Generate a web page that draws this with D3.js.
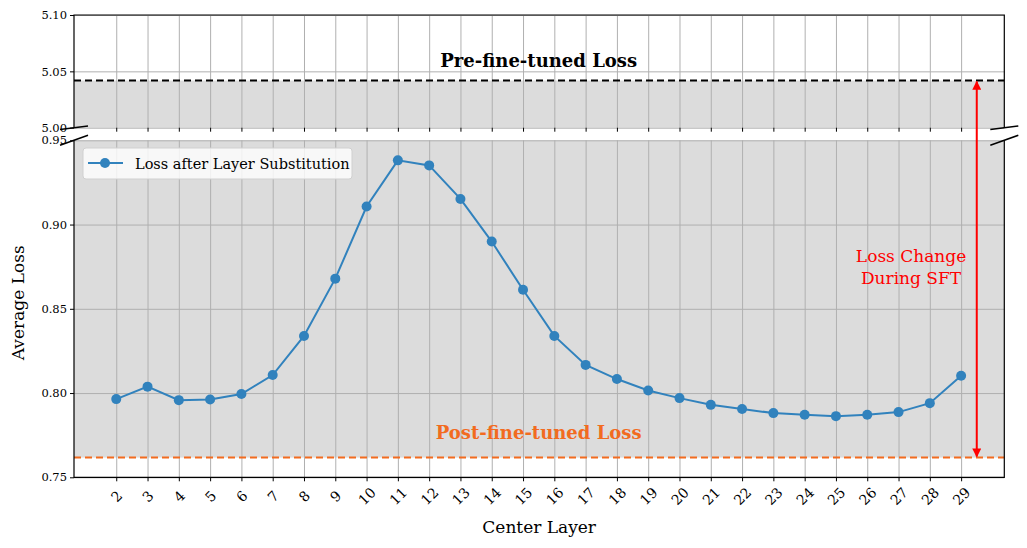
<!DOCTYPE html>
<html lang="en">
  <head>
    <meta charset="UTF-8">
    <title>Loss after Layer Substitution</title>
    <style>
      body { margin: 0; background: #fff; }
      svg { font-family: "DejaVu Serif", Georgia, serif; }
      .grid line { stroke: #b0b0b0; stroke-width: 1; }
      .grid path { display: none; }
      .axis path, .axis line { stroke: #000; stroke-width: 1; }
      .axis text { font-size: 11.5px; fill: #000; font-family: "DejaVu Serif", serif; }
      .axis-x text { font-size: 14px; }
      .spine { fill: none; stroke: #000; stroke-width: 1.2; }
    </style>
    <script src="https://d3js.org/d3.v7.min.js"></script>
  </head>
  <body>
    <script>
      // data
      const layers = [2, 3, 4, 5, 6, 7, 8, 9, 10, 11, 12, 13, 14, 15, 16, 17, 18, 19, 20, 21, 22, 23, 24, 25, 26, 27, 28, 29];
      const losses = [0.7964, 0.8038, 0.7958, 0.7962, 0.7994, 0.8107, 0.8339, 0.8679, 0.9107, 0.9381,
                      0.9351, 0.9152, 0.8899, 0.8613, 0.8339, 0.8167, 0.8083, 0.8015, 0.7970, 0.7930,
                      0.7905, 0.7881, 0.7871, 0.7863, 0.7871, 0.7887, 0.7940, 0.8103];
      const preLoss = 5.0418;
      const postLoss = 0.7617;
      const arrowX = 29.5;
      const topTicks = [5.00, 5.05, 5.10];
      const bottomTicks = [0.75, 0.80, 0.85, 0.90, 0.95];

      const width = 1027, height = 548;
      const left = 74, right = 1004.3;
      const topPanel = { top: 15, bottom: 127.7 };
      const botPanel = { top: 140.3, bottom: 477.3 };
      const lineColor = "#3182bd";
      const orange = "#f26b1f";
      const gray = "#dcdcdc";

      const svg = d3.select("body").append("svg")
        .attr("width", width)
        .attr("height", height);

      const x = d3.scaleLinear().domain([0.65, 30.38]).range([left, right]);
      const yTop = d3.scaleLinear().domain([5.00, 5.10]).range([topPanel.bottom, topPanel.top]);
      const yBot = d3.scaleLinear().domain([0.75, 0.95]).range([botPanel.bottom, botPanel.top]);

      const defs = svg.append("defs");
      defs.append("marker")
        .attr("id", "head")
        .attr("viewBox", "0 0 10 10")
        .attr("refX", 9).attr("refY", 5)
        .attr("markerWidth", 4.5).attr("markerHeight", 4.5)
        .attr("orient", "auto-start-reverse")
        .append("path")
        .attr("d", "M0,0 L10,5 L0,10 z")
        .attr("fill", "red");

      // ---- top panel ----
      svg.append("rect")
        .attr("x", left).attr("width", right - left)
        .attr("y", yTop(preLoss)).attr("height", yTop(5.00) - yTop(preLoss))
        .attr("fill", gray);

      svg.append("g").attr("class", "grid")
        .attr("transform", `translate(0,${topPanel.bottom})`)
        .call(d3.axisBottom(x).tickValues(layers).tickSize(-(topPanel.bottom - topPanel.top)).tickFormat(""));
      svg.append("g").attr("class", "grid")
        .attr("transform", `translate(${left},0)`)
        .call(d3.axisLeft(yTop).tickValues(topTicks).tickSize(-(right - left)).tickFormat(""));

      svg.append("line")
        .attr("x1", left).attr("x2", right)
        .attr("y1", yTop(preLoss)).attr("y2", yTop(preLoss))
        .attr("stroke", "#000").attr("stroke-width", 2)
        .attr("stroke-dasharray", "7,4");

      svg.append("text")
        .attr("x", x(15.5)).attr("y", yTop(5.0535))
        .attr("text-anchor", "middle")
        .attr("font-size", 18).attr("font-weight", "bold")
        .text("Pre-fine-tuned Loss");

      svg.append("g").attr("class", "axis")
        .attr("transform", `translate(${left},0)`)
        .call(d3.axisLeft(yTop).tickValues(topTicks).tickSize(4).tickPadding(3).tickFormat(d3.format(".2f")))
        .call(g => g.select(".domain").remove());
      svg.append("g").attr("class", "axis")
        .attr("transform", `translate(0,${topPanel.bottom})`)
        .call(d3.axisBottom(x).tickValues(layers).tickSize(4).tickFormat(""))
        .call(g => g.select(".domain").remove());

      svg.append("path").attr("class", "spine")
        .attr("d", `M${left},${topPanel.bottom}V${topPanel.top}H${right}V${topPanel.bottom}`);

      // ---- bottom panel ----
      svg.append("rect")
        .attr("x", left).attr("width", right - left)
        .attr("y", botPanel.top).attr("height", yBot(postLoss) - botPanel.top)
        .attr("fill", gray);

      svg.append("g").attr("class", "grid")
        .attr("transform", `translate(0,${botPanel.bottom})`)
        .call(d3.axisBottom(x).tickValues(layers).tickSize(-(botPanel.bottom - botPanel.top)).tickFormat(""));
      svg.append("g").attr("class", "grid")
        .attr("transform", `translate(${left},0)`)
        .call(d3.axisLeft(yBot).tickValues(bottomTicks).tickSize(-(right - left)).tickFormat(""));

      svg.append("line")
        .attr("x1", left).attr("x2", right)
        .attr("y1", yBot(postLoss)).attr("y2", yBot(postLoss))
        .attr("stroke", orange).attr("stroke-width", 2)
        .attr("stroke-dasharray", "7,4");

      svg.append("text")
        .attr("x", x(15.5)).attr("y", yBot(0.7725))
        .attr("text-anchor", "middle")
        .attr("font-size", 18).attr("font-weight", "bold")
        .attr("fill", orange)
        .text("Post-fine-tuned Loss");

      const series = layers.map((l, i) => ({ layer: l, loss: losses[i] }));

      svg.append("path")
        .datum(series)
        .attr("fill", "none")
        .attr("stroke", lineColor)
        .attr("stroke-width", 2)
        .attr("d", d3.line().x(d => x(d.layer)).y(d => yBot(d.loss)));

      svg.selectAll(".dot")
        .data(series)
        .enter()
        .append("circle")
        .attr("class", "dot")
        .attr("cx", d => x(d.layer))
        .attr("cy", d => yBot(d.loss))
        .attr("r", 5)
        .attr("fill", lineColor);

      svg.append("g").attr("class", "axis")
        .attr("transform", `translate(${left},0)`)
        .call(d3.axisLeft(yBot).tickValues(bottomTicks).tickSize(4).tickPadding(3).tickFormat(d3.format(".2f")))
        .call(g => g.select(".domain").remove());

      svg.append("g").attr("class", "axis axis-x")
        .attr("transform", `translate(0,${botPanel.bottom})`)
        .call(d3.axisBottom(x).tickValues(layers).tickSize(4).tickFormat(d3.format("d")))
        .call(g => g.select(".domain").remove())
        .call(g => g.selectAll(".tick text")
          .attr("y", 0).attr("dy", "0.35em")
          .attr("text-anchor", "middle")
          .attr("transform", "translate(0,19) rotate(-45)"));

      svg.append("path").attr("class", "spine")
        .attr("d", `M${left},${botPanel.top}V${botPanel.bottom}H${right}V${botPanel.top}`);

      // axis labels
      svg.append("text")
        .attr("x", (left + right) / 2).attr("y", 533)
        .attr("text-anchor", "middle")
        .attr("font-size", 17)
        .text("Center Layer");

      svg.append("text")
        .attr("transform", `translate(24,${(botPanel.top + botPanel.bottom) / 2 - 6}) rotate(-90)`)
        .attr("text-anchor", "middle")
        .attr("font-size", 17)
        .text("Average Loss");

      // broken axis marks
      const breakMarks = [
        [left, topPanel.bottom, 3.4], [right, topPanel.bottom, 3.4],
        [left, botPanel.top, 10], [right, botPanel.top, 10]
      ];
      svg.selectAll(".brk")
        .data(breakMarks)
        .enter()
        .append("line")
        .attr("class", "brk")
        .attr("x1", d => d[0] - 14).attr("y1", d => d[1] + d[2] / 2)
        .attr("x2", d => d[0] + 14).attr("y2", d => d[1] - d[2] / 2)
        .attr("stroke", "#000").attr("stroke-width", 1.5);

      // loss change arrow
      svg.append("line")
        .attr("x1", x(arrowX)).attr("x2", x(arrowX))
        .attr("y1", yTop(preLoss) + 1).attr("y2", yBot(postLoss) - 1)
        .attr("stroke", "red").attr("stroke-width", 2)
        .attr("marker-start", "url(#head)")
        .attr("marker-end", "url(#head)");

      const note = svg.append("text")
        .attr("text-anchor", "middle")
        .attr("font-size", 17)
        .attr("fill", "red");
      note.append("tspan").attr("x", x(27.4)).attr("y", yBot(0.8775)).text("Loss Change");
      note.append("tspan").attr("x", x(27.4)).attr("y", yBot(0.8650)).text("During SFT");

      // legend
      const legend = svg.append("g").attr("transform", "translate(83,148)");
      legend.append("rect")
        .attr("width", 269).attr("height", 31)
        .attr("rx", 3)
        .attr("fill", "#fff").attr("fill-opacity", 0.8)
        .attr("stroke", "#d0d0d0");
      legend.append("line")
        .attr("x1", 5).attr("x2", 40).attr("y1", 15).attr("y2", 15)
        .attr("stroke", lineColor).attr("stroke-width", 2);
      legend.append("circle").attr("cx", 22).attr("cy", 15).attr("r", 5).attr("fill", lineColor);
      legend.append("text")
        .attr("x", 52).attr("y", 20.5)
        .attr("font-size", 14.5)
        .text("Loss after Layer Substitution");
    </script>
  </body>
</html>
